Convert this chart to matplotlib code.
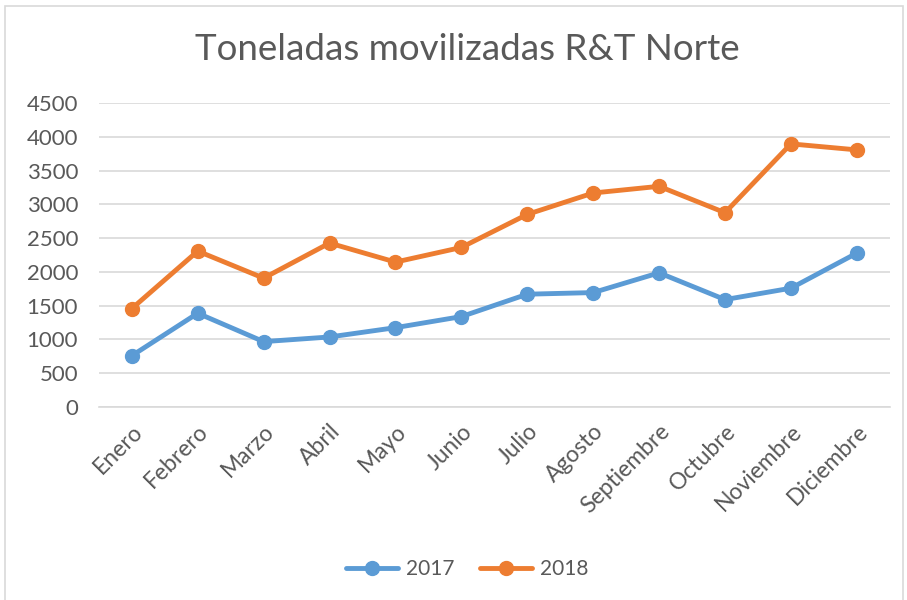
import matplotlib.pyplot as plt
from matplotlib.patches import Rectangle

# Datos
meses = ['Enero', 'Febrero', 'Marzo', 'Abril', 'Mayo', 'Junio', 'Julio',
         'Agosto', 'Septiembre', 'Octubre', 'Noviembre', 'Diciembre']
ton_2017 = [757, 1387, 966, 1035, 1173, 1337, 1669, 1693, 1986, 1589, 1758, 2278]
ton_2018 = [1456, 2308, 1907, 2427, 2145, 2362, 2852, 3169, 3268, 2877, 3897, 3808]
yticks = [0, 500, 1000, 1500, 2000, 2500, 3000, 3500, 4000, 4500]

gris = '#595959'
plt.rcParams['font.family'] = ['Lato', 'DejaVu Sans']

fig = plt.figure(figsize=(9.07, 6.0), dpi=100)
ax = fig.add_axes([0.109, 0.322, 0.872, 0.506])

# Borde del area del grafico
fig.patches.append(Rectangle((0.006, -0.01), 0.99, 1.0, transform=fig.transFigure,
                             fill=False, edgecolor='#d9d9d9', linewidth=1.2))

x = range(len(meses))
ax.plot(x, ton_2017, color='#5b9bd5', linewidth=3.5, marker='o', markersize=10,
        label='2017', solid_capstyle='round')
ax.plot(x, ton_2018, color='#ed7d31', linewidth=3.5, marker='o', markersize=10,
        label='2018', solid_capstyle='round')

ax.set_xlim(-0.5, len(meses) - 0.5)
ax.set_ylim(0, 4500)
ax.set_yticks(yticks)
ax.set_yticklabels([str(v) for v in yticks])
ax.set_xticks(list(x))
ax.set_xticklabels(meses, rotation=45, ha='right', rotation_mode='anchor')
ax.tick_params(axis='both', length=0, colors=gris)
ax.tick_params(axis='y', pad=15, labelsize=16)
ax.tick_params(axis='x', pad=10, labelsize=16.5)

ax.grid(axis='y', color='#d9d9d9', linewidth=1.2)
ax.set_axisbelow(True)
for lado in ['top', 'right', 'left']:
    ax.spines[lado].set_visible(False)
ax.spines['bottom'].set_color('#d9d9d9')
ax.spines['bottom'].set_linewidth(1.2)

fig.text(0.515, 0.918, 'Toneladas movilizadas R&T Norte', ha='center', va='center',
         fontsize=26.5, color=gris)

fig.legend(loc='center', bbox_to_anchor=(0.515, 0.052), ncol=2, frameon=False,
           fontsize=15, labelcolor=gris, handlelength=2.5, columnspacing=1.2,
           handletextpad=0.4)

fig.savefig('out.png', dpi=100)
